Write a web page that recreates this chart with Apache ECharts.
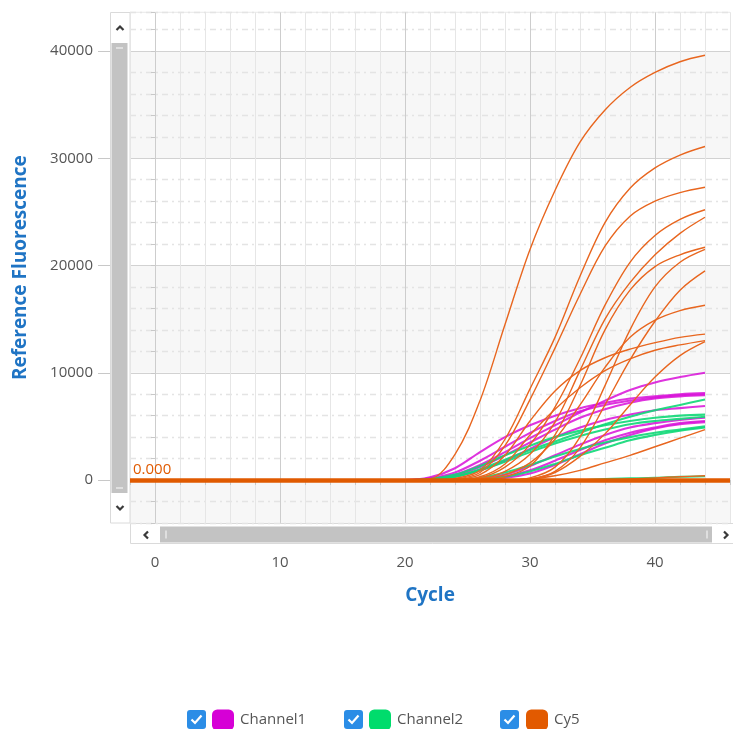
<!DOCTYPE html>
<html><head><meta charset="utf-8">
<script src="https://cdn.jsdelivr.net/npm/echarts@6/dist/echarts.min.js"></script>
<style>html,body{margin:0;padding:0;background:#fff;overflow:hidden}#c{width:733px;height:729px}</style>
</head><body><div id="c"></div>
<script>
// ---- data ----
const cycles = [1, 20, 22, 24, 26, 28, 30, 32, 34, 36, 38, 40, 42, 44];

const channel1 = [
  [0, 0, 100, 500, 1400, 2600, 3900, 5100, 6300, 7400, 8400, 9100, 9600, 10000],
  [0, 0, 250, 1100, 2600, 4000, 5100, 6000, 6700, 7200, 7600, 7800, 8000, 8100],
  [0, 0, 150, 700, 1800, 3100, 4400, 5500, 6400, 7000, 7400, 7700, 7900, 8000],
  [0, 0, 50, 400, 1200, 2300, 3500, 4700, 5800, 6600, 7200, 7600, 7800, 7900],
  [0, 0, 50, 300, 900, 1800, 2900, 4000, 4900, 5600, 6100, 6500, 6700, 6900],
  [0, 0, 0, 0, 100, 500, 1300, 2300, 3300, 4200, 4900, 5300, 5600, 5800],
  [0, 0, 0, 0, 50, 300, 900, 1800, 2800, 3700, 4400, 4900, 5300, 5500],
  [0, 0, 0, 0, 0, 200, 600, 1400, 2400, 3400, 4200, 4800, 5200, 5400]
];

const channel2 = [
  [0, 0, 50, 300, 1000, 1900, 2800, 3600, 4400, 5200, 5900, 6500, 7000, 7500],
  [0, 0, 100, 500, 1300, 2300, 3200, 4000, 4600, 5100, 5500, 5800, 6000, 6100],
  [0, 0, 50, 300, 900, 1700, 2600, 3400, 4100, 4700, 5200, 5500, 5700, 5900],
  [0, 0, 0, 0, 200, 700, 1400, 2200, 2900, 3500, 4000, 4400, 4700, 5000],
  [0, 0, 0, 0, 50, 300, 800, 1500, 2300, 3000, 3700, 4200, 4600, 4900],
  [0, 0, 0, 0, 0, 0, 0, 0, 0, 100, 150, 200, 300, 350]
];

const cy5 = [
  [0, 0, 100, 2400, 7400, 14500, 21500, 27000, 31500, 34500, 36600, 38000, 39000, 39600],
  [0, 0, 0, 150, 900, 3800, 8500, 13300, 19000, 24000, 27200, 29100, 30300, 31100],
  [0, 0, 0, 100, 700, 3200, 7500, 12300, 17300, 21800, 24600, 26000, 26800, 27300],
  [0, 0, 0, 0, 200, 1200, 3300, 6800, 11300, 16300, 20300, 22800, 24300, 25200],
  [0, 0, 0, 0, 100, 800, 2400, 5400, 10200, 15000, 18400, 21000, 23000, 24500],
  [0, 0, 0, 0, 0, 300, 1300, 4200, 8800, 14000, 17700, 19900, 21000, 21700],
  [0, 0, 0, 0, 0, 0, 200, 1200, 4000, 8800, 14000, 18000, 20300, 21500],
  [0, 0, 0, 0, 0, 0, 100, 800, 3000, 7000, 11200, 14800, 17700, 19500],
  [0, 0, 0, 0, 50, 500, 1600, 3800, 7000, 10500, 13300, 14900, 15800, 16300],
  [0, 0, 0, 50, 500, 2300, 5500, 8300, 10200, 11400, 12200, 12800, 13300, 13600],
  [0, 0, 0, 0, 0, 0, 100, 700, 2200, 4300, 7000, 9600, 11600, 12900],
  [0, 0, 0, 0, 300, 1500, 4200, 6600, 8600, 10200, 11300, 12100, 12600, 13000],
  [0, 0, 0, 0, 0, 0, 100, 400, 900, 1600, 2300, 3100, 3900, 4700],
  [0, 0, 0, 0, 0, 0, 0, 0, 0, 0, 100, 200, 300, 400]
];

const seriesNames = ['Channel1', 'Channel2', 'Cy5'];
const seriesColors = ['#d600d6', '#00dc6c', '#e25a00'];
const xMajorTicks = [0, 10, 20, 30, 40];
const yMajorTicks = [0, 10000, 20000, 30000, 40000];
const thresholdValue = 0;
const thresholdLabel = '0.000';

// ---- chart ----
const FONT = "'Segoe UI', 'Open Sans', 'Noto Sans', sans-serif";
const chart = echarts.init(document.getElementById('c'), null, {renderer: 'canvas'});

function makeSeries(name, curves, color, width, opacity) {
  return curves.map(vals => ({
    name, type: 'line',
    data: cycles.map((c, i) => [c, vals[i]]),
    showSymbol: false, symbol: 'none', smooth: 0.35,
    lineStyle: {color, width, opacity},
    itemStyle: {color},
    emphasis: {disabled: true},
    silent: true
  }));
}

const series = [].concat(
  makeSeries(seriesNames[0], channel1, '#d810d8', 2.1, 0.85),
  makeSeries(seriesNames[1], channel2, '#10d877', 2.1, 0.9),
  makeSeries(seriesNames[2], cy5, '#e8661f', 1.4, 1)
);
// threshold line on the last Cy5 series
series[series.length - 1].markLine = {
  silent: true, symbol: ['none', 'none'], animation: false,
  lineStyle: {color: '#e05a00', width: 4.5, type: 'solid', opacity: 1},
  label: {show: true, position: 'insideStartTop', formatter: thresholdLabel,
          color: '#e05a00', fontSize: 15, fontFamily: FONT, distance: [3, 3]},
  emphasis: {disabled: true},
  data: [{yAxis: thresholdValue}]
};

const G = '#f7f7f7', W = '#ffffff';
const minorH = '#e4e4e4';

function checkbox(x, y) {
  return {
    type: 'group', x, y, silent: true,
    children: [
      {type: 'rect', shape: {x: 0, y: 0, width: 19, height: 19, r: 3}, style: {fill: '#2b8de6'}},
      {type: 'polyline', shape: {points: [[4.5, 9.5], [8, 13], [14.5, 5.5]]},
       style: {stroke: '#fff', lineWidth: 2.2, fill: null}}
    ]
  };
}
function chevron(points) {
  return {type: 'polyline', silent: true, shape: {points}, style: {stroke: '#3a3a3a', lineWidth: 2.2, fill: null}};
}

const graphic = [
  // vertical scrollbar
  {type: 'rect', silent: true, shape: {x: 110.5, y: 12.5, width: 19.5, height: 510.5}, style: {fill: '#fff', stroke: '#dadada'}},
  {type: 'rect', silent: true, shape: {x: 111.5, y: 43, width: 16, height: 450}, style: {fill: '#c3c3c3'}},
  {type: 'line', silent: true, shape: {x1: 116, y1: 48, x2: 123, y2: 48}, style: {stroke: '#f2f2f2', lineWidth: 1.2}},
  {type: 'line', silent: true, shape: {x1: 116, y1: 488, x2: 123, y2: 488}, style: {stroke: '#f2f2f2', lineWidth: 1.2}},
  chevron([[116.5, 30], [120, 26.5], [123.5, 30]]),
  chevron([[116.5, 506], [120, 509.5], [123.5, 506]]),
  // horizontal scrollbar
  {type: 'rect', silent: true, shape: {x: 130.5, y: 523.5, width: 604, height: 20}, style: {fill: '#fff', stroke: '#dadada'}},
  {type: 'rect', silent: true, shape: {x: 160, y: 526.5, width: 552, height: 16}, style: {fill: '#c3c3c3'}},
  {type: 'line', silent: true, shape: {x1: 166, y1: 530.5, x2: 166, y2: 538.5}, style: {stroke: '#f2f2f2', lineWidth: 1.2}},
  {type: 'line', silent: true, shape: {x1: 707, y1: 530.5, x2: 707, y2: 538.5}, style: {stroke: '#f2f2f2', lineWidth: 1.2}},
  chevron([[148, 531.5], [144.5, 535], [148, 538.5]]),
  chevron([[724, 531.5], [727.5, 535], [724, 538.5]]),
  // legend checkboxes
  checkbox(187, 710), checkbox(344, 710), checkbox(500, 710)
];

function legendFor(i, left) {
  return {
    show: true, left, top: 709.5, padding: 0, orient: 'horizontal',
    itemWidth: 22, itemHeight: 21, itemGap: 10, icon: 'roundRect',
    selectedMode: true,
    textStyle: {color: '#555', fontSize: 15, fontFamily: FONT, padding: [0, 0, 0, 1]},
    data: [{name: seriesNames[i], icon: 'roundRect', itemStyle: {color: seriesColors[i]}}]
  };
}

const option = {
  animation: false,
  backgroundColor: '#fff',
  textStyle: {fontFamily: FONT},
  grid: {left: 130, right: 0, top: 12.4, bottom: 206.1, show: true,
         borderColor: '#d6d6d6', borderWidth: 1, backgroundColor: 'transparent', containLabel: false},
  legend: [legendFor(0, 212), legendFor(1, 369), legendFor(2, 526)],
  graphic,
  xAxis: {
    type: 'value', min: -2, max: 46, interval: 2, offset: 21,
    axisLine: {show: false},
    axisTick: {show: true, length: 5, lineStyle: {color: '#c8c8c8'}},
    axisLabel: {interval: 0, color: '#555', fontSize: 15, fontFamily: FONT, margin: 11,
                formatter: v => (xMajorTicks.indexOf(v) >= 0 ? String(v) : '')},
    splitLine: {show: true, lineStyle: {width: 1,
      color: ['#e6e6e6', '#cdcdcd', '#e6e6e6', '#e6e6e6', '#e6e6e6']}},
    name: 'Cycle', nameLocation: 'middle', nameGap: 42,
    nameTextStyle: {color: '#1f74c4', fontSize: 19, fontWeight: 'bold', fontFamily: FONT}
  },
  yAxis: [{
    type: 'value', min: -4000, max: 43600, interval: 2000, offset: 20,
    axisLine: {show: false},
    axisTick: {show: true, length: 4, lineStyle: {color: '#c8c8c8'}},
    axisLabel: {interval: 0, color: '#555', fontSize: 15, fontFamily: FONT, margin: 17,
                formatter: v => (yMajorTicks.indexOf(v) >= 0 ? String(v) : '')},
    splitLine: {show: true, lineStyle: {width: 1.3, type: [6, 4, 2, 4],
      color: [minorH, minorH, 'rgba(0,0,0,0)', minorH, minorH]}},
    splitArea: {show: true, areaStyle: {color: [G, G, W, W, W, W, W, G, G, G]}},
    name: 'Reference Fluorescence', nameLocation: 'middle', nameGap: 80,
    nameTextStyle: {color: '#1f74c4', fontSize: 19, fontWeight: 'bold', fontFamily: FONT}
  }, {
    type: 'value', min: -4000, max: 43600, interval: 2000, offset: 20, position: 'left',
    axisLine: {show: false},
    axisLabel: {show: false},
    axisTick: {show: true, length: 12, customValues: yMajorTicks, lineStyle: {color: '#c8c8c8'}},
    splitLine: {show: true, lineStyle: {width: 1, color: '#d2d2d2'}}
  }],
  series
};
chart.setOption(option);
</script>
</body></html>
